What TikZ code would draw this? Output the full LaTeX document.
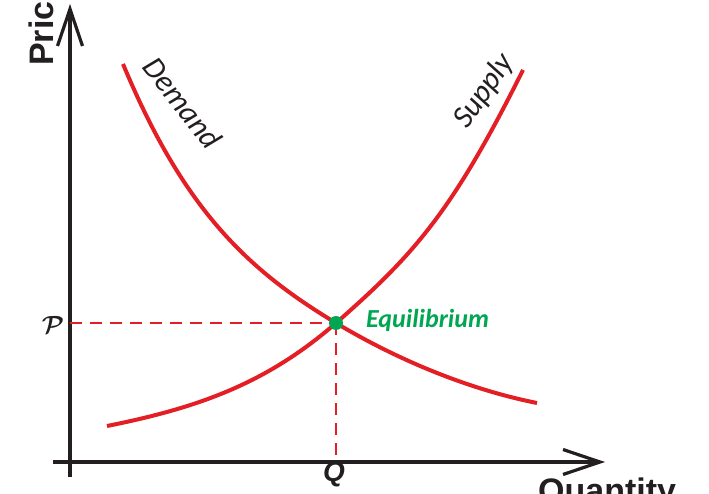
\documentclass[tikz,border=0pt]{standalone}
\usepackage{fontspec}
\usepackage{bm}
\usepackage{tikz}
\usetikzlibrary{arrows.meta, calc, positioning}
\newfontfamily\axisfont{Liberation Sans}
\newfontfamily\curvefont{Carlito}
\definecolor{eRed}{HTML}{E31E24}
\definecolor{eGreen}{HTML}{00A651}
\definecolor{eInk}{HTML}{231F20}

\begin{document}
\begin{tikzpicture}[x=1pt, y=-1pt,
    axis/.style={eInk, line width=3.2pt, -{Straight Barb[length=37pt, width=25pt]}},
    curve/.style={eRed, line width=4pt},
    guide/.style={eRed, line width=1.6pt, dash pattern=on 12pt off 8pt},
    axislabel/.style={inner sep=0pt, font=\axisfont\bfseries\fontsize{34}{40}\selectfont, eInk},
    curvelabel/.style={inner sep=0pt, font=\curvefont\itshape\fontsize{31}{36}\selectfont, eInk}]
  % frame of the picture (labels run off the edge)
  \useasboundingbox (0,0) rectangle (709,494);
  \clip (0,0) rectangle (709,494);
  % axes
  \coordinate (ybot) at (70,477);
  \coordinate (ytop) at (70,4);
  \coordinate (xleft) at (53,462);
  \coordinate (xright) at (605,462);
  \draw[axis] (ybot) -- (ytop);
  \draw[axis] (xleft) -- (xright);
  \node[axislabel, rotate=90, anchor=base west] (price) at (53,66) {Price};
  \node[axislabel, anchor=base west] (quantity) at (538,502) {Quantity};
  % equilibrium and guide lines
  \coordinate (eq) at (336,323);
  \draw[guide] (eq -| ybot) -- (eq);
  \draw[guide] (eq) -- (eq |- xleft);
  % demand and supply curves
  \draw[curve] (123,64) .. controls (183,208) and (246,269) .. (eq)
               .. controls (396,359) and (467,389) .. (537,403);
  \draw[curve] (107,426) .. controls (197,408) and (266,384) .. (eq)
               .. controls (416,253) and (453,210) .. (523,70);
  \fill[eGreen] (eq) circle (7pt);
  % labels
  \node[curvelabel, rotate=-52] (demand) at (183,103) {Demand};
  \node[curvelabel, rotate=55] (supply) at (484,91) {Supply};
  \node[inner sep=0pt, anchor=base west, eGreen, font=\curvefont\bfseries\itshape\fontsize{26}{30}\selectfont]
    (eqlabel) at (366,327) {Equilibrium};
  \node[inner sep=0pt, eInk, font=\fontsize{32}{36}\selectfont] (plabel) at (53,325) {$\bm{\mathcal{P}}$};
  \node[inner sep=0pt, eInk, font=\axisfont\bfseries\itshape\fontsize{28}{32}\selectfont] (qlabel) at (334,474) {Q};
\end{tikzpicture}
\end{document}
